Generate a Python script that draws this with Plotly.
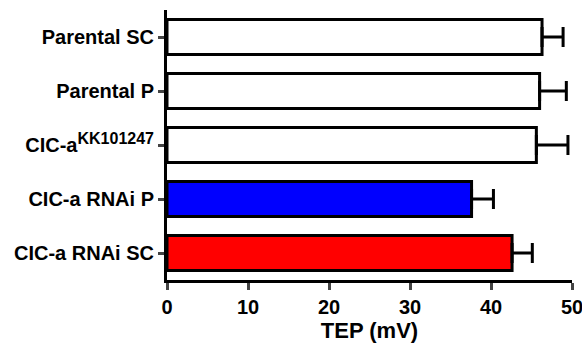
import plotly.graph_objects as go

categories = ["Parental SC", "Parental P",
              "CIC-a<sup><span style='font-size:16px'>KK101247</span></sup>",
              "CIC-a RNAi P", "CIC-a RNAi SC"]
values = [46.3, 46.0, 45.6, 37.6, 42.6]
errors = [2.6, 3.3, 3.9, 2.7, 2.5]
colors = ["#FFFFFF", "#FFFFFF", "#FFFFFF", "#0000FF", "#FF0000"]
x_ticks = [0, 10, 20, 30, 40, 50]

font = "Liberation Sans, Arial, sans-serif"

fig = go.Figure(go.Bar(
    x=values, y=categories, orientation="h", cliponaxis=False,
    marker=dict(color=colors, line=dict(color="black", width=3)),
    error_x=dict(type="data", array=errors, arrayminus=[0]*len(errors), symmetric=False,
                 color="black", thickness=3, width=10),
))

fig.update_layout(
    width=582, height=345,
    margin=dict(l=167, r=10, t=10, b=65),
    plot_bgcolor="white", paper_bgcolor="white",
    bargap=0.35, showlegend=False,
    font=dict(family=font, color="black"),
)
fig.update_xaxes(
    range=[0, 50], tickvals=x_ticks, ticks="outside", ticklen=7, tickwidth=3,
    showline=True, linewidth=3, linecolor="black", showgrid=False, zeroline=False,
    automargin=False, ticklabeloverflow="allow",
    tickfont=dict(size=20, family=font, weight="bold"),
    title=dict(text="<b>TEP (mV)</b>", font=dict(size=22, family=font), standoff=6),
)
fig.update_yaxes(
    range=[4.5, -0.5], ticks="outside", ticklen=6, tickwidth=3,
    showline=True, linewidth=3, linecolor="black", showgrid=False,
    automargin=False, ticklabeloverflow="allow",
    tickfont=dict(size=20, family=font, weight="bold"),
)

fig.write_html("out.html", default_width="582px", default_height="345px",
               config={"displayModeBar": False},
               post_script="document.body.style.margin='0';document.body.style.overflow='hidden';")
